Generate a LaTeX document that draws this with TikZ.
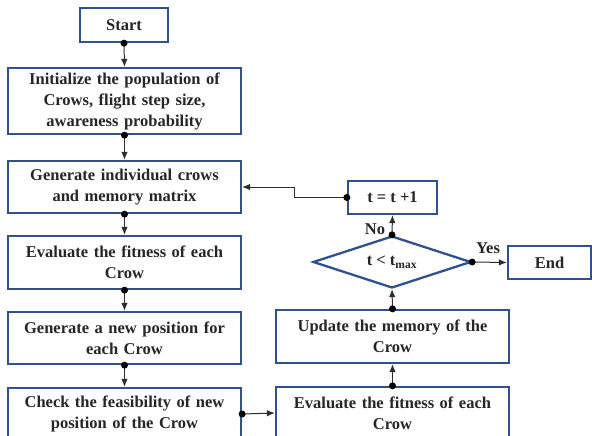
\documentclass[tikz,border=0pt]{standalone}
\usepackage{fontspec}
\setmainfont{Liberation Serif}
\usetikzlibrary{shapes.geometric,arrows.meta}
\definecolor{boxblue}{RGB}{47,82,143}
\definecolor{linegray}{RGB}{45,45,45}
\definecolor{txt}{RGB}{38,38,38}
\tikzset{
  pbox/.style={draw=boxblue, line width=2.3pt, fill=white, text=txt, font=\fontsize{16.5}{21}\selectfont\bfseries, align=center, inner sep=0pt},
  wbox/.style={pbox, minimum width=233pt, text width=228pt},
  dec/.style={pbox, diamond, aspect=3, minimum width=158pt, minimum height=52pt},
  conn/.style={draw=linegray, line width=1pt, -{Latex[length=8pt,width=6.5pt]}},
  dot/.style={circle, fill=black, inner sep=0pt, minimum size=7pt},
  lbl/.style={text=txt, font=\fontsize{16.5}{18}\selectfont\bfseries},
}
\begin{document}
\begin{tikzpicture}[x=1pt,y=-1pt]
\useasboundingbox (0,0) rectangle (592,436);
\clip (0,0) rectangle (592,436);
\fill[white] (0,0) rectangle (592,436);
\node[pbox, minimum width=88pt, minimum height=34pt] (start) at (124,25) {Start};
\node[wbox, minimum height=66pt] (init) at (124.5,101) {Initialize the population of\\Crows, flight step size,\\awareness probability};
\node[wbox, minimum height=52pt] (gen) at (124.5,187) {Generate individual crows\\and memory matrix};
\node[wbox, minimum height=53pt] (eval1) at (124.5,262.5) {Evaluate the fitness of each\\Crow};
\node[wbox, minimum height=52pt] (newpos) at (124.5,338) {Generate a new position for\\each Crow};
\node[wbox, minimum height=52pt] (check) at (124.5,414) {Check the feasibility of new\\position of the Crow};
\node[wbox, minimum height=52pt] (evalR) at (392.5,413) {Evaluate the fitness of each\\Crow};
\node[wbox, minimum height=53pt] (update) at (392.5,336.5) {Update the memory of the\\Crow};
\node[dec] (cond) at (392,262) {t < t\textsubscript{max}};
\node[pbox, minimum width=89pt, minimum height=33pt] (tinc) at (392.5,197.5) {t = t +1};
\node[pbox, minimum width=83pt, minimum height=33pt] (end) at (549.5,262.5) {End};
\coordinate (bend) at (294,0);

\draw[conn] (start.south) -- (init.north);
\draw[conn] (init.south) -- (gen.north);
\draw[conn] (gen.south) -- (eval1.north);
\draw[conn] (eval1.south) -- (newpos.north);
\draw[conn] (newpos.south) -- (check.north);
\draw[conn] (check.east) -- (evalR.west);
\draw[conn] (evalR.north) -- (update.south);
\draw[conn] (update.north) -- (cond.south);
\draw[conn] (cond.north) -- (tinc.south);
\draw[conn] (cond.east) -- (end.west);
\draw[conn] (tinc.west) -- (tinc.west -| bend) |- (gen.east);

\foreach \p in {start.south, init.south, gen.south, eval1.south, newpos.south, check.east, evalR.north, update.north, cond.north, cond.east, tinc.west}
  \node[dot] at (\p) {};

\node[lbl] (no) at (375,229) {No};
\node[lbl] (yes) at (488,248) {Yes};
\end{tikzpicture}
\end{document}
